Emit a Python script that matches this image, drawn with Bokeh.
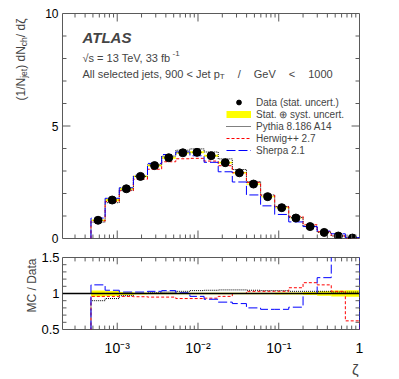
from math import pi
import numpy as np
from bokeh.plotting import figure
from bokeh.layouts import column, row
from bokeh.models import (Range1d, Label, Legend, LegendItem, Span, FixedTicker, Title)
from bokeh.embed import file_html
from bokeh.resources import INLINE

# ---------------- data ----------------
zeta_edges = [4.73e-4, 7.08e-4, 1.06e-3, 1.585e-3, 2.37e-3, 3.55e-3, 5.31e-3, 7.94e-3,
              1.19e-2, 1.78e-2, 2.66e-2, 3.98e-2, 5.96e-2, 8.91e-2, 0.133, 0.2, 0.299,
              0.447, 0.668, 1.0]
data_vals = [0.81, 1.71, 2.21, 2.76, 3.24, 3.59, 3.81, 3.83, 3.68, 3.37, 2.92, 2.42,
             1.86, 1.37, 0.91, 0.53, 0.27, 0.11, 0.02]
data_syst = [0.04, 0.035, 0.02, 0.015, 0.012, 0.012, 0.012, 0.012, 0.012, 0.012, 0.012,
             0.012, 0.012, 0.015, 0.015, 0.02, 0.03, 0.04, 0.045]
pythia_ratio = [0.90, 0.93, 0.97, 1.00, 1.01, 1.02, 1.03, 1.04, 1.045, 1.05, 1.05, 1.045,
                1.04, 1.04, 1.03, 1.03, 1.03, 1.02, 1.02]
herwig_ratio = [0.96, 0.96, 0.96, 0.955, 0.95, 0.95, 0.93, 0.93, 0.935, 0.96, 1.0, 1.03,
                1.03, 1.03, 1.08, 1.15, 1.12, 1.03, 0.62]
sherpa_ratio = [1.12, 1.045, 1.02, 1.02, 1.03, 1.04, 1.01, 0.96, 0.92, 0.88, 0.86, 0.80,
                0.78, 0.78, 0.81, 1.0, 1.22, 1.9, 1.9]

x_major_ticks = [1e-3, 1e-2, 1e-1, 1.0]
x_tick_labels = ["10\u207b\u00b3", "10\u207b\u00b2", "10\u207b\u00b9", "1"]
y_top_ticks = [0, 5, 10]
y_top_minor = [1, 2, 3, 4, 6, 7, 8, 9]
y_ratio_ticks = [0.5, 1.0, 1.5]
y_ratio_minor = [0.6, 0.7, 0.8, 0.9, 1.1, 1.2, 1.3, 1.4]

X_MIN, X_MAX = 2.1e-4, 1.0
FRAME_W, TOP_H, RAT_H = 299, 225, 74
FRAME = "#5a5a5a"
FONT = "Liberation Sans"

# Arial-like advance widths (per em) for placing sub/superscripts
W = {' ': .278, '(': .333, ')': .333, '/': .278, '<': .584, '=': .584, ',': .278, '.': .278,
     'A': .667, 'G': .778, 'J': .5, 'N': .722, 'T': .611, 'V': .667, 'M': .833, 'C': .722,
     'D': .722, 'a': .556, 'b': .556, 'c': .5, 'd': .556, 'e': .556, 'f': .278, 'h': .556,
     'i': .222, 'j': .222, 'l': .222, 'p': .556, 's': .5, 't': .278, '\u221a': .549,
     '\u03b6': .5}


def text_w(s, size):
    return sum(W.get(ch, .556) for ch in s) * size


lo = np.array(zeta_edges[:-1])
hi = np.array(zeta_edges[1:])
centers = np.sqrt(lo * hi)
dv = np.array(data_vals)
syst = np.array(data_syst)
minor_x = [m * 10.0 ** e for e in range(-4, 0) for m in range(2, 10) if m * 10.0 ** e > X_MIN]
PPD = FRAME_W / np.log10(X_MAX / X_MIN)   # pixels per decade


def step_path(vals):
    xs, ys = [zeta_edges[0]], [0.0]
    for i, v in enumerate(vals):
        xs += [zeta_edges[i], zeta_edges[i + 1]]
        ys += [float(v), float(v)]
    xs.append(zeta_edges[-1])
    ys.append(0.0)
    return xs, ys


def add_ticks(p, y0, y1, frame_h, ymaj, ymin, maj=8, mnr=4):
    """inward ROOT-style ticks on all four sides, drawn inside the frame"""
    yu = (y1 - y0) / frame_h
    for xs, L in ((x_major_ticks, maj), (minor_x, mnr)):
        xs = [x for x in xs if X_MIN < x < X_MAX]
        n = len(xs)
        p.segment(xs, [y0] * n, xs, [y0 + L * yu] * n, line_color=FRAME, line_width=1)
        p.segment(xs, [y1] * n, xs, [y1 - L * yu] * n, line_color=FRAME, line_width=1)
    for ys, L in ((ymaj, maj), (ymin, mnr)):
        n = len(ys)
        f = 10 ** (L / PPD)
        p.segment([X_MIN] * n, ys, [X_MIN * f] * n, ys, line_color=FRAME, line_width=1)
        p.segment([X_MAX / f] * n, ys, [X_MAX] * n, ys, line_color=FRAME, line_width=1)


def style_axis(ax, size):
    ax.major_tick_in = 0
    ax.major_tick_out = 0
    ax.minor_tick_in = 0
    ax.minor_tick_out = 0
    ax.axis_line_color = None
    ax.major_label_text_font = FONT
    ax.major_label_text_color = "black"
    ax.major_label_text_font_size = size


def add_text(p, x, y, txt, size, **kw):
    p.add_layout(Label(x=x, y=y, x_units="screen", y_units="screen", text=txt,
                       text_font=FONT, text_font_size=f"{size}px",
                       text_baseline="alphabetic", **kw))


TW = 38   # width of the text column holding the y-axis titles
LB = 22   # left border of the two panels -> frames start at x = 60

# ---------------- top panel ----------------
p1 = figure(width=LB + FRAME_W + 30, height=248, x_axis_type="log", output_backend="svg",
            toolbar_location=None, x_range=Range1d(X_MIN, X_MAX), y_range=Range1d(0, 10),
            min_border_left=LB, min_border_right=30, min_border_top=13, min_border_bottom=10)
p1.grid.visible = False
p1.outline_line_color = FRAME
p1.xaxis.visible = False
p1.yaxis.ticker = FixedTicker(ticks=y_top_ticks)
style_axis(p1.yaxis[0], "12px")
p1.yaxis.major_label_standoff = 4

p1.quad(left=lo, right=hi, bottom=dv * (1 - syst), top=dv * (1 + syst),
        fill_color="#ffff00", line_color=None)
px, py = step_path(dv * np.array(pythia_ratio))
hx, hy = step_path(dv * np.array(herwig_ratio))
sx, sy = step_path(dv * np.array(sherpa_ratio))
r_py = p1.line(px, py, line_color="black", line_width=1, line_dash="1 1")
r_hw = p1.line(hx, hy, line_color="#ff0000", line_width=1, line_dash="3 2")
r_sh = p1.line(sx, sy, line_color="#0000ff", line_width=1, line_dash="9 3")
r_data = p1.scatter(centers, dv, size=8, marker="circle", fill_color="black", line_color="black")
r_band = p1.line([1e-5, 2e-5], [-1, -1], line_color="#ffff00", line_width=7)
add_ticks(p1, 0, 10, TOP_H, y_top_ticks, y_top_minor)

legend = Legend(items=[
    LegendItem(label="Data (stat. uncert.)", renderers=[r_data]),
    LegendItem(label="Stat. \u2295 syst. uncert.", renderers=[r_band]),
    LegendItem(label="Pythia 8.186 A14", renderers=[r_py]),
    LegendItem(label="Herwig++ 2.7", renderers=[r_hw]),
    LegendItem(label="Sherpa 2.1", renderers=[r_sh]),
], location=(164, 82), glyph_width=25, glyph_height=12, label_height=12, spacing=0,
    padding=0, margin=0, label_standoff=5, border_line_color=None,
    background_fill_alpha=0, label_text_font_size="10px", label_text_font=FONT)
p1.add_layout(legend)

add_text(p1, 20, 201, "ATLAS", 15, text_font_style="bold italic")
s1 = "\u221as = 13 TeV, 33 fb"
add_text(p1, 20, 181, s1, 11)
add_text(p1, 20 + text_w(s1, 11), 185, "-1", 8)

s2a = "All selected jets, 900 < Jet p"
add_text(p1, 20, 165, s2a, 11)
xc = 20 + text_w(s2a, 11)
add_text(p1, xc, 162, "T", 8)
xc += text_w("T", 8)
gap = 13
for tok in ["/", "GeV", "<", "1000"]:
    xc += gap
    add_text(p1, xc, 165, tok, 11)
    xc += text_w(tok, 11)

# ---------------- ratio panel ----------------
p2 = figure(width=LB + FRAME_W + 30, height=129, x_axis_type="log", output_backend="svg",
            toolbar_location=None, x_range=p1.x_range, y_range=Range1d(0.5, 1.5),
            min_border_left=LB, min_border_right=30, min_border_top=9, min_border_bottom=46)
p2.grid.visible = False
p2.outline_line_color = FRAME
p2.xaxis.ticker = FixedTicker(ticks=x_major_ticks)
p2.xaxis.major_label_overrides = dict(zip(x_major_ticks, x_tick_labels))
style_axis(p2.xaxis[0], "14px")
p2.xaxis.major_label_standoff = 10
p2.yaxis.ticker = FixedTicker(ticks=y_ratio_ticks)
p2.yaxis.major_label_overrides = {0.5: "0.5", 1.0: "1", 1.5: "1.5"}
style_axis(p2.yaxis[0], "13px")
p2.yaxis.major_label_standoff = 3

p2.quad(left=lo, right=hi, bottom=1 - syst, top=1 + syst, fill_color="#ffff00", line_color=None)
rx, ry = step_path(pythia_ratio)
p2.line(rx, ry, line_color="black", line_width=1, line_dash="1 1")
rx, ry = step_path(herwig_ratio)
p2.line(rx, ry, line_color="#ff0000", line_width=1, line_dash="3 2")
rx, ry = step_path(sherpa_ratio)
p2.line(rx, ry, line_color="#0000ff", line_width=1, line_dash="9 3")
p2.add_layout(Span(location=1.0, dimension="width", line_color="black", line_width=1.5))
add_ticks(p2, 0.5, 1.5, RAT_H, y_ratio_ticks, y_ratio_minor, maj=7, mnr=4)

p2.add_layout(Title(text="\u03b6", align="right", text_font=FONT, text_font_size="15px",
                    text_font_style="normal", standoff=0, offset=1), "below")

# ---------------- axis titles (narrow text column on the left) ----------------
TH = 248 + 129
pt = figure(width=TW, height=TH, output_backend="svg", toolbar_location=None,
            x_range=Range1d(0, TW), y_range=Range1d(0, TH), x_axis_location=None,
            y_axis_location=None, min_border_left=0, min_border_right=0,
            min_border_top=0, min_border_bottom=0)
pt.grid.visible = False
pt.outline_line_color = None

pieces = [("(1/N", 12, 0), ("jet", 8.5, 3), (") dN", 12, 0), ("ch", 8.5, 3), (" / d\u03b6", 12, 0)]
ypos = TH - 100
for txt, fs, shift in pieces:
    add_text(pt, 20 + shift, ypos, txt, fs, angle=pi / 2, text_align="left")
    ypos += text_w(txt, fs)
mc = "MC / Data"
add_text(pt, 31, TH - 285 - text_w(mc, 12) / 2, mc, 12, angle=pi / 2, text_align="left")

layout = row(pt, column(p1, p2, spacing=0), spacing=0)
open("out.html", "w").write(file_html(layout, INLINE))
